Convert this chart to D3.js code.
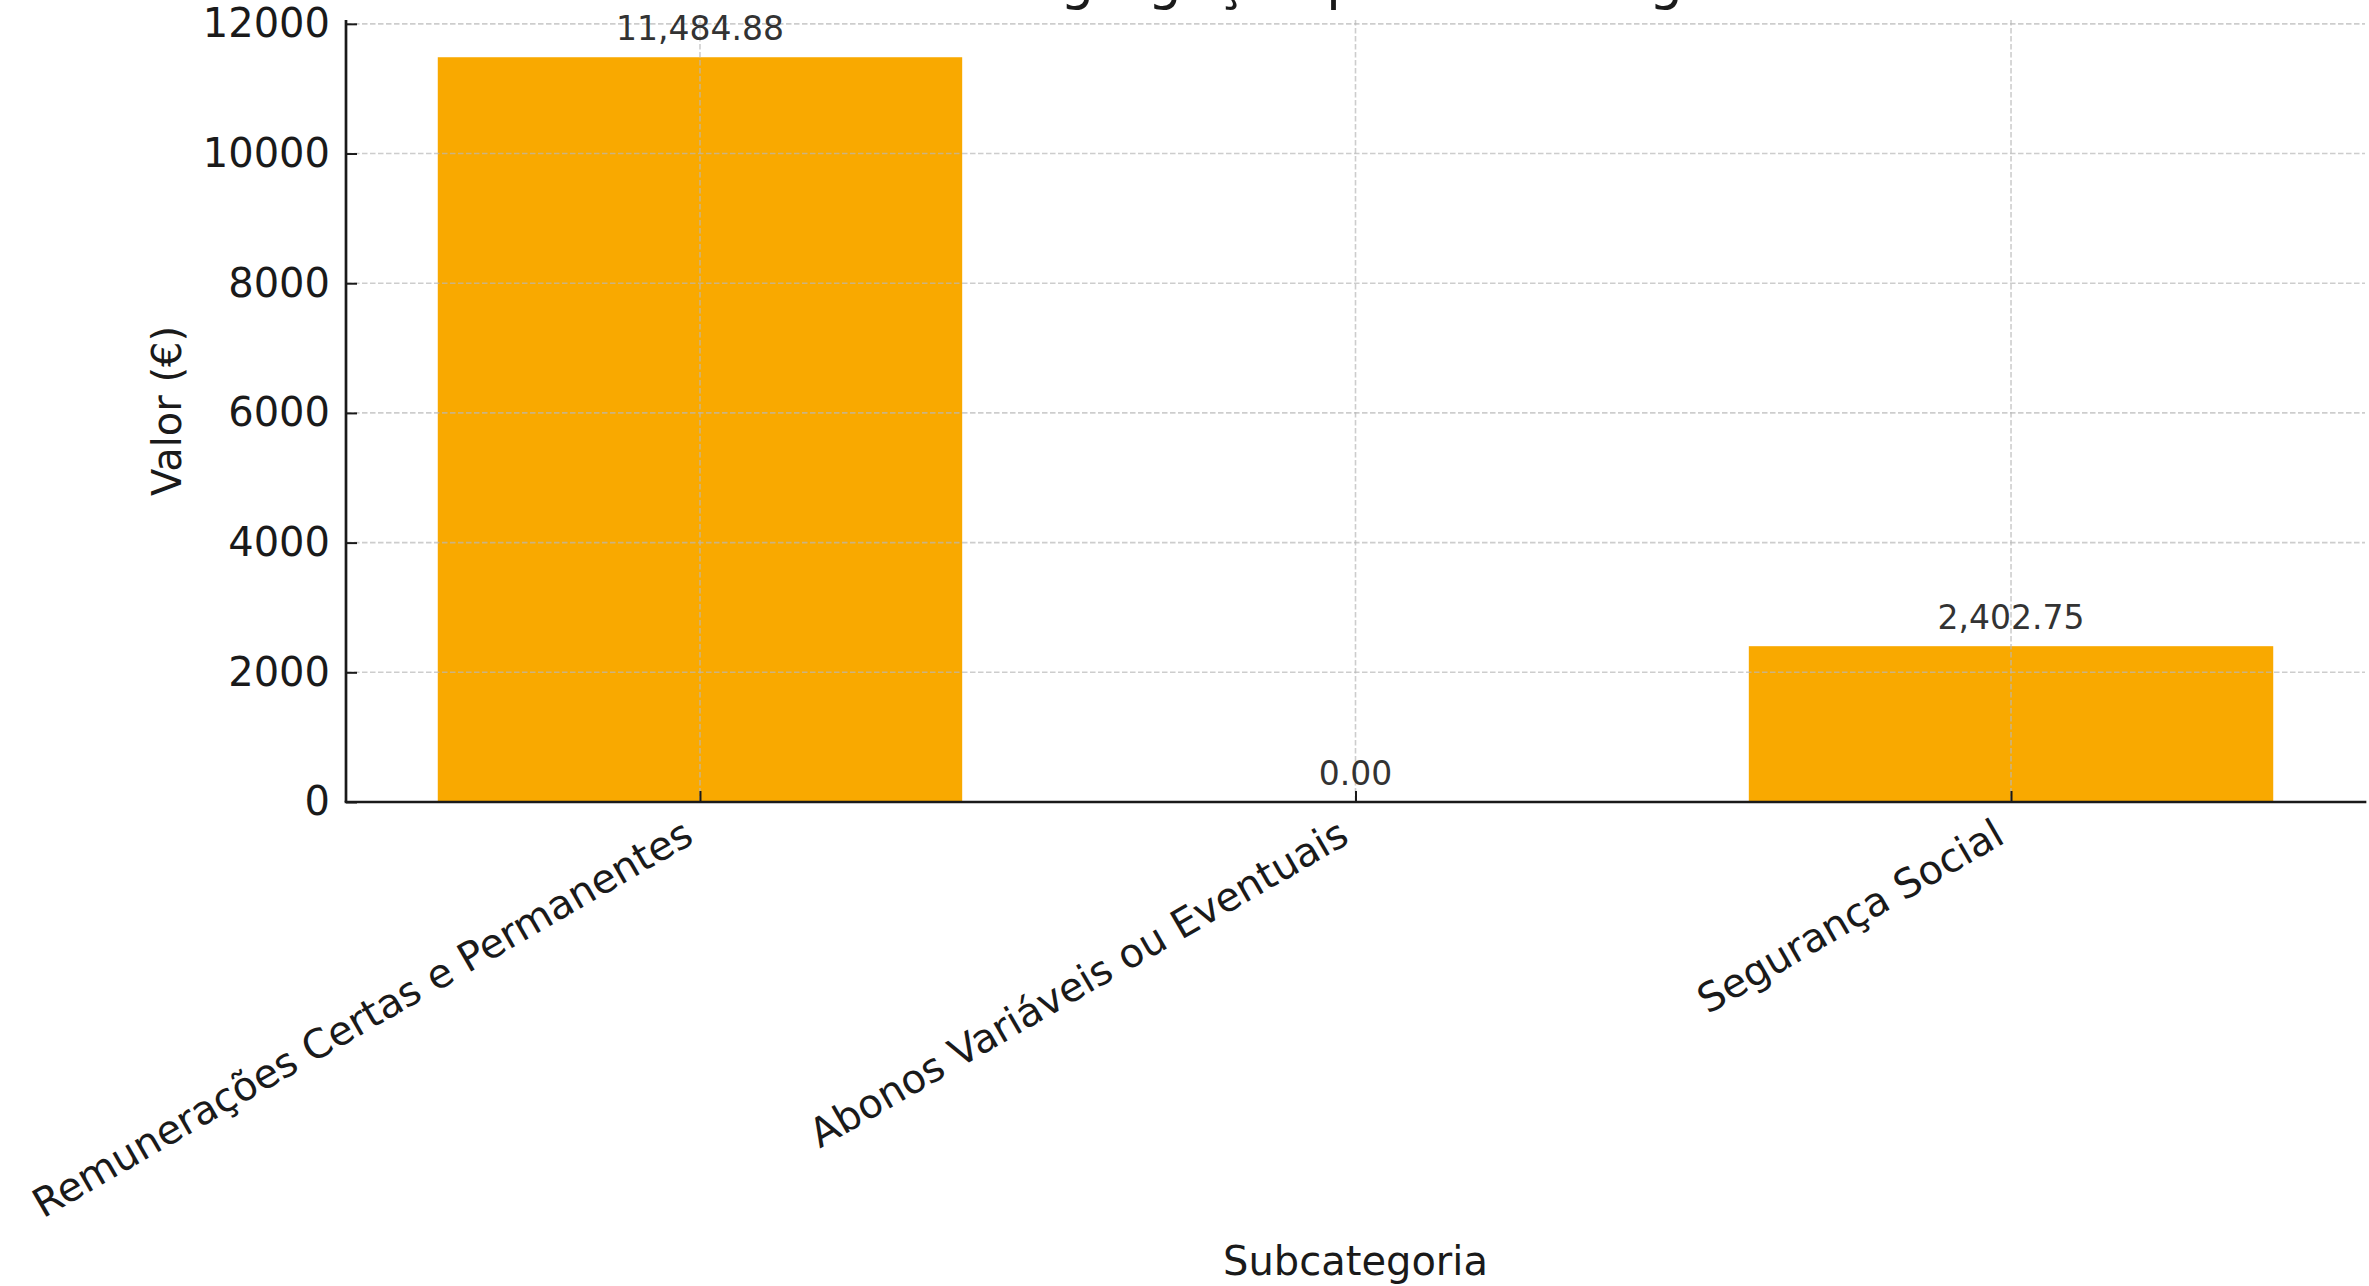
<!DOCTYPE html>
<html>
<head>
<meta charset="utf-8">
<script src="https://cdn.jsdelivr.net/npm/d3@7"></script>
<style>
  html, body { margin: 0; padding: 0; background: #ffffff; }
  svg { display: block; }
  text { font-family: "DejaVu Sans", sans-serif; }
</style>
</head>
<body>
<div id="chart"></div>
<script>
// Subcategory breakdown (values in euros)
const categories = [
  "Remunerações Certas e Permanentes",
  "Abonos Variáveis ou Eventuais",
  "Segurança Social"
];
const values = [11484.88, 0.00, 2402.75];
const yTicks = [0, 2000, 4000, 6000, 8000, 10000, 12000];

const chartTitle = "Desagregação por Subcategoria";
const xLabel = "Subcategoria";
const yLabel = "Valor (€)";

const W = 2369, H = 1286;
const plot = { left: 346, right: 2365, top: 20, bottom: 802 };
const barColor = "#f9a900";
const barWidth = 0.8;

const svg = d3.select("#chart").append("svg")
  .attr("width", W).attr("height", H);

// Category index scale with the usual 5% margin around the bars
const x = d3.scaleLinear()
  .domain([-barWidth / 2 - 0.14, categories.length - 1 + barWidth / 2 + 0.14])
  .range([plot.left, plot.right]);

const yMax = d3.max(values) * 1.05;
const y = d3.scaleLinear()
  .domain([0, yMax])
  .range([plot.bottom, plot.top]);

// Bars
svg.append("g").selectAll("rect")
  .data(values)
  .join("rect")
  .attr("x", (d, i) => x(i - barWidth / 2))
  .attr("width", (d, i) => x(i + barWidth / 2) - x(i - barWidth / 2))
  .attr("y", d => y(d))
  .attr("height", d => y(0) - y(d))
  .attr("fill", barColor);

// Dashed grid drawn over the bars
const grid = svg.append("g")
  .attr("stroke", "#b8b8b8")
  .attr("stroke-opacity", 0.7)
  .attr("stroke-width", 1.6)
  .attr("stroke-dasharray", "5.5,2.5");
grid.selectAll("line.h")
  .data(yTicks)
  .join("line")
  .attr("class", "h")
  .attr("x1", plot.left).attr("x2", plot.right)
  .attr("y1", d => y(d)).attr("y2", d => y(d));
grid.selectAll("line.v")
  .data(categories)
  .join("line")
  .attr("class", "v")
  .attr("x1", (d, i) => x(i)).attr("x2", (d, i) => x(i))
  .attr("y1", plot.top).attr("y2", plot.bottom);

// Y axis (ticks pointing inward)
const yAxis = d3.axisLeft(y)
  .tickValues(yTicks)
  .tickFormat(d3.format("d"))
  .tickSizeInner(-11)
  .tickSizeOuter(0)
  .tickPadding(16);
const gy = svg.append("g")
  .attr("transform", `translate(${plot.left},0)`)
  .call(yAxis);
gy.select(".domain").remove();
gy.selectAll(".tick line").attr("stroke", "#1a1a1a").attr("stroke-width", 2);
gy.selectAll(".tick text")
  .attr("font-size", 40)
  .attr("font-family", "DejaVu Sans")
  .attr("fill", "#1a1a1a");

// X axis (ticks pointing inward, labels rotated 30°)
const xAxis = d3.axisBottom(x)
  .tickValues(d3.range(categories.length))
  .tickFormat(i => categories[i])
  .tickSizeInner(-11)
  .tickSizeOuter(0);
const gx = svg.append("g")
  .attr("transform", `translate(0,${plot.bottom})`)
  .call(xAxis);
gx.select(".domain").remove();
gx.selectAll(".tick line").attr("stroke", "#1a1a1a").attr("stroke-width", 2);
gx.selectAll(".tick text")
  .attr("font-size", 40)
  .attr("font-family", "DejaVu Sans")
  .attr("fill", "#1a1a1a")
  .attr("text-anchor", "end")
  .attr("dy", null)
  .attr("y", null)
  .attr("transform", "translate(-5,40) rotate(-30)");

// Left and bottom spines
svg.append("line")
  .attr("x1", plot.left).attr("x2", plot.left)
  .attr("y1", plot.top).attr("y2", plot.bottom)
  .attr("stroke", "#1a1a1a").attr("stroke-width", 2.7);
svg.append("line")
  .attr("x1", plot.left).attr("x2", plot.right)
  .attr("y1", plot.bottom).attr("y2", plot.bottom)
  .attr("stroke", "#1a1a1a").attr("stroke-width", 2.7)
  .attr("stroke-linecap", "square");

// Value labels above each bar
svg.append("g").selectAll("text")
  .data(values)
  .join("text")
  .attr("x", (d, i) => x(i))
  .attr("y", d => y(d) - 17)
  .attr("text-anchor", "middle")
  .attr("font-size", 33)
  .attr("fill", "#333333")
  .text(d => d3.format(",.2f")(d));

// Axis labels and title
svg.append("text")
  .attr("x", (plot.left + plot.right) / 2)
  .attr("y", 1275)
  .attr("text-anchor", "middle")
  .attr("font-size", 40)
  .attr("fill", "#1a1a1a")
  .text(xLabel);

svg.append("text")
  .attr("transform", `translate(181,${(plot.top + plot.bottom) / 2}) rotate(-90)`)
  .attr("text-anchor", "middle")
  .attr("font-size", 40)
  .attr("fill", "#1a1a1a")
  .text(yLabel);

svg.append("text")
  .attr("x", (plot.left + plot.right) / 2)
  .attr("y", -1)
  .attr("text-anchor", "middle")
  .attr("font-size", 53.4)
  .attr("fill", "#1a1a1a")
  .text(chartTitle);
</script>
</body>
</html>
